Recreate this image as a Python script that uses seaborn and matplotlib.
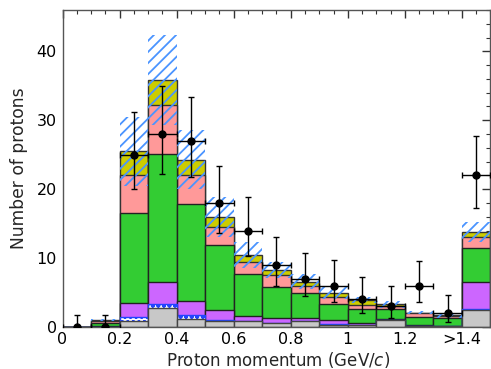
import numpy as np
import pandas as pd
import matplotlib
matplotlib.use("Agg")
import matplotlib.pyplot as plt
import seaborn as sns
from matplotlib.ticker import MultipleLocator

# Bins of proton momentum (GeV/c), last bin is the overflow ">1.4"
edges = [0.0, 0.1, 0.2, 0.3, 0.4, 0.5, 0.6, 0.7, 0.8, 0.9, 1.0, 1.1, 1.2, 1.3, 1.4, 1.5]
centers = [(a + b) / 2 for a, b in zip(edges[:-1], edges[1:])]

# Stacked prediction components (per bin, bottom to top)
gray = [0, 0, 0.8, 2.7, 1.2, 0.8, 0.8, 0.6, 0.9, 0.3, 0.3, 1.0, 0.1, 0.1, 2.5]
dotted = [0, 0, 0.7, 0.7, 0.5, 0.2, 0, 0, 0, 0.1, 0, 0, 0, 0, 0.1]
purple = [0, 0.1, 2.0, 3.2, 2.1, 1.5, 0.8, 0.7, 0.45, 0.6, 0.3, 0.2, 0.2, 0.1, 3.9]
green = [0, 0.5, 13.0, 18.5, 14.1, 9.4, 6.1, 4.5, 3.55, 2.4, 2.0, 1.4, 1.2, 1.1, 5.0]
pink = [0, 0.3, 5.6, 7.1, 4.2, 2.6, 1.8, 1.7, 1.1, 1.0, 0.6, 0.4, 0.5, 0.3, 1.6]
olive = [0, 0.1, 3.4, 3.6, 2.2, 1.5, 1.0, 0.8, 0.6, 0.5, 0.7, 0.3, 0.1, 0.1, 0.7]
syst = [0, 0.2, 5.0, 6.5, 4.3, 2.9, 1.9, 1.2, 1.1, 0.9, 0.45, 0.5, 0.2, 0.35, 1.4]

# Measured data
data = [0, 0, 25, 28, 27, 18, 14, 9, 7, 6, 4, 3, 6, 2, 22]
err_lo = [0, 0, 5.0, 5.8, 5.3, 4.3, 3.7, 3.0, 2.5, 2.4, 1.9, 1.7, 2.3, 1.3, 4.7]
err_hi = [1.8, 1.8, 6.2, 7.0, 6.4, 5.4, 4.8, 4.1, 3.8, 3.7, 3.2, 3.0, 3.6, 2.7, 5.7]

xtick_vals = [0, 0.2, 0.4, 0.6, 0.8, 1.0, 1.2, 1.4]
xtick_labels = ['0', '0.2', '0.4', '0.6', '0.8', '1', '1.2', '>1.4']

sns.set_style("white")
plt.rcParams['hatch.linewidth'] = 1.3

fig = plt.figure(figsize=(4.91, 3.69), dpi=100)
ax = fig.add_axes([62.5 / 491, 42 / 369, 428 / 491, 317 / 369])

layers = [
    (gray, '#c8c8c8', '#444444', None),
    (dotted, 'white', '#2244ff', 'ooo'),
    (purple, '#cc66ff', '#222222', None),
    (green, '#33cc33', '#222222', None),
    (pink, '#ff9999', '#333333', None),
    (olive, '#cccc00', '#333333', None),
]
cum = np.cumsum([np.array(l[0], dtype=float) for l in layers], axis=0)

# draw cumulative histograms from the top down, like a stack
for i in range(len(layers) - 1, -1, -1):
    vals, fc, ec, hatch = layers[i]
    kw = {}
    if hatch:
        kw['hatch'] = hatch
    df = pd.DataFrame({'p': centers, 'n': cum[i]})
    sns.histplot(data=df, x='p', weights='n', bins=edges, element='bars',
                 color=fc, edgecolor=ec, linewidth=1, alpha=1, ax=ax, **kw)

# systematic uncertainty band
total = cum[-1]
syst = np.array(syst)
ax.bar(centers, 2 * syst, bottom=total - syst, width=0.1, fill=False,
       hatch='///', edgecolor='#4a94ff', linewidth=0, zorder=3)

# data points
ax.errorbar(centers, data, yerr=[err_lo, err_hi], xerr=0.05, fmt='o',
            color='black', ms=5, capsize=2.5, elinewidth=1, capthick=1, zorder=5)

ax.set_xlim(0, 1.5)
ax.set_ylim(0, 46)
ax.set_xticks(xtick_vals)
ax.set_xticklabels(xtick_labels)
ax.xaxis.set_minor_locator(MultipleLocator(0.05))
ax.yaxis.set_major_locator(MultipleLocator(10))
ax.yaxis.set_minor_locator(MultipleLocator(2))
ax.tick_params(which='both', direction='in', top=True, right=True,
               labelsize=11.5, colors='#333333', labelcolor='black')
ax.tick_params(axis='x', which='major', length=6, width=1, pad=3.5)
ax.tick_params(axis='y', which='major', length=6, width=1, pad=4)
ax.tick_params(which='minor', length=3, width=0.8)
for s in ax.spines.values():
    s.set_color('#555555')
    s.set_linewidth(1)

ax.set_xlabel('Proton momentum (GeV/$c$)', fontsize=12)
ax.set_ylabel('Number of protons', fontsize=12.3)
ax.xaxis.set_label_coords(0.503, -0.074)
ax.yaxis.set_label_coords(-0.08, 0.5)

fig.savefig('out.png', dpi=100)
